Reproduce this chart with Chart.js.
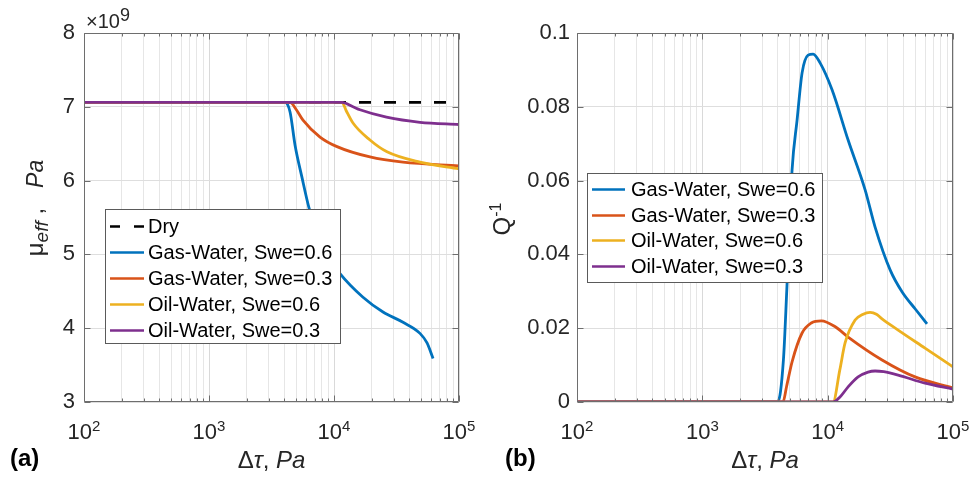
<!DOCTYPE html>
<html>
<head>
<meta charset="utf-8">
<script src="https://cdn.jsdelivr.net/npm/chart.js@4"></script>
<style>
  html, body { margin: 0; padding: 0; background: #fff; }
  #wrap { width: 970px; height: 477px; display: flex; }
  canvas { display: block; }
</style>
</head>
<body>
<div id="wrap">
  <canvas id="chartA" width="485" height="477"></canvas>
  <canvas id="chartB" width="485" height="477"></canvas>
</div>
<script>
const FONT = "'Liberation Sans', Arial, Helvetica, sans-serif";
const TEXT = '#262626';
const AXIS = '#6e6e6e';

// legend labels and colours (MATLAB default order)
const seriesNames = ['Gas-Water, Swe=0.6', 'Gas-Water, Swe=0.3', 'Oil-Water, Swe=0.6', 'Oil-Water, Swe=0.3'];
const seriesColors = ['#0072BD', '#D95319', '#EDB120', '#7E2F8E'];

// x axis (shared): decades and their exponent labels
const xTickValues = [100, 1000, 10000, 100000];
const xTickExponents = ['2', '3', '4', '5'];

// ---- panel (a): effective modulus, in units of 10^9 Pa ----
const dryX  = [100, 100000];
const dryMu = [7.06, 7.06];

const gw06X_a = [100, 4050, 4450, 4880, 5550, 6310, 7000, 8000, 9000, 10000, 11170, 17060, 24660, 35650, 48750, 55500, 62000];
const gw06Mu  = [7.06, 7.06, 6.93, 6.48, 6.04, 5.63, 5.38, 5.15, 4.99, 4.86, 4.74, 4.42, 4.22, 4.08, 3.93, 3.80, 3.59];

const gw03X_a = [100, 4450, 5000, 5650, 7730, 10570, 19400, 35650, 100000];
const gw03Mu  = [7.06, 7.06, 6.96, 6.82, 6.59, 6.46, 6.32, 6.25, 6.20];

const ow06X_a = [100, 11590, 12500, 14190, 19400, 26550, 48750, 100000];
const ow06Mu  = [7.06, 7.06, 6.95, 6.78, 6.55, 6.39, 6.25, 6.16];

const ow03X_a = [100, 11590, 14190, 16140, 26300, 48750, 100000];
const ow03Mu  = [7.06, 7.06, 7.00, 6.96, 6.86, 6.79, 6.76];

// ---- panel (b): attenuation Q^-1 ----
const gw06X_b = [100, 4000, 4436, 4720, 5200, 5700, 6250, 6980, 7660, 8700, 10840, 14560, 19900, 23900, 31500, 39300, 50000, 62000];
const gw06Q   = [0, 0, 0.0114, 0.0304, 0.0629, 0.0764, 0.0892, 0.0940, 0.0943, 0.0919, 0.0846, 0.0710, 0.0575, 0.0474, 0.0358, 0.0298, 0.0252, 0.0212];

const gw03X_b = [100, 4400, 4700, 5200, 6250, 7400, 8900, 11500, 14560, 27160, 49800, 100000];
const gw03Q   = [0, 0, 0.0042, 0.0109, 0.0187, 0.0214, 0.0220, 0.0204, 0.0176, 0.0114, 0.0068, 0.0038];

const ow06X_b = [100, 11040, 12500, 13770, 16560, 19000, 21800, 24500, 27000, 36500, 59800, 100000];
const ow06Q   = [0, 0, 0.0087, 0.0160, 0.0222, 0.0237, 0.0243, 0.0238, 0.0226, 0.0195, 0.0146, 0.0095];

const ow03X_b = [100, 11040, 12500, 14560, 17500, 21000, 23900, 28000, 36500, 59800, 100000];
const ow03Q   = [0, 0, 0.0013, 0.0041, 0.0068, 0.0081, 0.0084, 0.0082, 0.0073, 0.0051, 0.0035];

function pts(xs, ys) {
  return xs.map((x, i) => ({ x: x, y: ys[i] }));
}

// log grid: every 1..9 x decade
const xGridValues = [];
xTickValues.forEach((d, i) => {
  const n = i === xTickValues.length - 1 ? 1 : 9;
  for (let k = 1; k <= n; k++) xGridValues.push(d * k);
});

function line(label, data, color, order, dash) {
  return {
    label: label, data: data, borderColor: color, backgroundColor: color,
    borderWidth: 2.8, borderDash: dash || [], pointRadius: 0, fill: false,
    cubicInterpolationMode: 'monotone', order: order
  };
}

function runsWidth(ctx, runs) {
  let w = 0;
  runs.forEach(r => { ctx.font = r.font + ' ' + FONT; w += ctx.measureText(r.text).width; });
  return w;
}
function drawRuns(ctx, runs, x, y) {
  let cx = x;
  runs.forEach(r => {
    ctx.font = r.font + ' ' + FONT;
    ctx.fillText(r.text, cx, y + (r.dy || 0));
    cx += ctx.measureText(r.text).width;
  });
}

// box, inward ticks, rich-text labels and an in-axes legend, MATLAB style
function makeLook(cfg) {
  return {
    id: 'matlabLook',
    afterDraw(chart) {
      const ctx = chart.ctx, a = chart.chartArea;
      const sx = chart.scales.x, sy = chart.scales.y;
      ctx.save();

      const L = Math.round(a.left) + 0.5, R = Math.round(a.right) - 0.5;
      const T = Math.round(a.top) + 0.5, B = Math.round(a.bottom) - 0.5;
      ctx.strokeStyle = AXIS;
      ctx.lineWidth = 1;
      ctx.setLineDash([]);
      ctx.beginPath();
      ctx.rect(L, T, R - L, B - T);
      sx.ticks.forEach(t => {
        const px = Math.round(sx.getPixelForValue(t.value)) + 0.5;
        const len = xTickValues.includes(t.value) ? 6 : 3;
        ctx.moveTo(px, B); ctx.lineTo(px, B - len);
        ctx.moveTo(px, T); ctx.lineTo(px, T + len);
      });
      sy.ticks.forEach(t => {
        const py = Math.round(sy.getPixelForValue(t.value)) + 0.5;
        ctx.moveTo(L, py); ctx.lineTo(L + 6, py);
        ctx.moveTo(R, py); ctx.lineTo(R - 6, py);
      });
      ctx.stroke();

      // x tick labels 10^n
      ctx.fillStyle = TEXT;
      ctx.textBaseline = 'alphabetic';
      ctx.textAlign = 'left';
      xTickValues.forEach((v, i) => {
        const px = sx.getPixelForValue(v);
        const runs = [{ text: '10', font: '22px' }, { text: xTickExponents[i], font: '15px', dy: -8 }];
        drawRuns(ctx, runs, px - runsWidth(ctx, runs) / 2, 439);
      });

      // x title
      const xr = [{ text: 'Δ', font: '24px' }, { text: 'τ', font: 'italic 24px' },
                  { text: ', ', font: '24px' }, { text: 'Pa', font: 'italic 24px' }];
      drawRuns(ctx, xr, (a.left + a.right) / 2 - runsWidth(ctx, xr) / 2, 468);

      // y title (rotated)
      ctx.save();
      ctx.translate(cfg.yTitleX, cfg.yTitleY);
      ctx.rotate(-Math.PI / 2);
      drawRuns(ctx, cfg.yTitle, -runsWidth(ctx, cfg.yTitle) / 2, 0);
      ctx.restore();

      // panel label
      ctx.fillStyle = '#000';
      ctx.font = 'bold 24px ' + FONT;
      ctx.fillText(cfg.panel, cfg.panelX, 466);

      // exponent label
      if (cfg.exponent) {
        ctx.fillStyle = TEXT;
        drawRuns(ctx, [{ text: '×10', font: '20px' }, { text: cfg.exponent, font: '18px', dy: -7 }], 86, 28);
      }

      // legend
      const lg = cfg.legend;
      ctx.fillStyle = '#fff';
      ctx.fillRect(lg.left, lg.top, lg.right - lg.left, lg.bottom - lg.top);
      ctx.strokeStyle = '#5a5a5a';
      ctx.lineWidth = 1;
      ctx.strokeRect(lg.left + 0.5, lg.top + 0.5, lg.right - lg.left, lg.bottom - lg.top);
      chart.data.datasets.forEach((ds, i) => {
        const y = Math.round(lg.top + lg.first + i * lg.step) + 0.5;
        ctx.strokeStyle = ds.borderColor;
        ctx.lineWidth = 2.6;
        ctx.setLineDash(ds.borderDash.length ? [10, 14] : []);
        ctx.beginPath();
        ctx.moveTo(lg.sample0, y); ctx.lineTo(lg.sample1, y);
        ctx.stroke();
        ctx.setLineDash([]);
        ctx.fillStyle = '#000';
        ctx.font = '20px ' + FONT;
        ctx.textBaseline = 'middle';
        ctx.fillText(ds.label, lg.textX, y + 1);
      });
      ctx.restore();
    }
  };
}

function makeOptions(cfg) {
  return {
    responsive: false,
    animation: false,
    events: [],
    layout: { padding: { top: 33, right: cfg.padRight, left: 0, bottom: 0 } },
    plugins: { legend: { display: false }, tooltip: { enabled: false } },
    scales: {
      x: {
        type: 'logarithmic', min: 100, max: 100000,
        afterBuildTicks: s => { s.ticks = xGridValues.map(v => ({ value: v })); },
        afterFit: s => { s.height = 75; },
        ticks: { display: false, autoSkip: false },
        grid: {
          drawTicks: false, lineWidth: 1,
          color: c => (c.tick && xTickValues.includes(c.tick.value)) ? '#d9d9d9' : '#e6e6e6'
        },
        border: { display: false }
      },
      y: {
        min: cfg.yMin, max: cfg.yMax,
        afterFit: s => { s.width = cfg.yWidth; },
        ticks: {
          stepSize: cfg.yStep, padding: cfg.yPad, color: TEXT,
          font: { family: FONT, size: 22 },
          callback: v => String(+v.toFixed(2))
        },
        grid: { drawTicks: false, color: '#dedede', lineWidth: 1 },
        border: { display: false }
      }
    }
  };
}

new Chart(document.getElementById('chartA'), {
  type: 'line',
  data: {
    datasets: [
      line('Dry', pts(dryX, dryMu), '#000000', 4, [12, 13]),
      line(seriesNames[0], pts(gw06X_a, gw06Mu), seriesColors[0], 3),
      line(seriesNames[1], pts(gw03X_a, gw03Mu), seriesColors[1], 2),
      line(seriesNames[2], pts(ow06X_a, ow06Mu), seriesColors[2], 1),
      line(seriesNames[3], pts(ow03X_a, ow03Mu), seriesColors[3], 0)
    ]
  },
  options: makeOptions({ padRight: 26, yWidth: 84, yMin: 3, yMax: 8, yStep: 1, yPad: 9 }),
  plugins: [makeLook({
    panel: '(a)', panelX: 10, exponent: '9',
    yTitleX: 43, yTitleY: 208,
    yTitle: [{ text: 'μ', font: '24px' }, { text: 'eff', font: 'italic 19px', dy: 5 },
             { text: ' ,   ', font: '24px' }, { text: 'Pa', font: 'italic 23px' }],
    legend: { left: 105, top: 209, right: 340, bottom: 343, first: 17, step: 26,
              sample0: 110, sample1: 144, textX: 148 }
  })]
});

new Chart(document.getElementById('chartB'), {
  type: 'line',
  data: {
    datasets: [
      line(seriesNames[0], pts(gw06X_b, gw06Q), seriesColors[0], 3),
      line(seriesNames[1], pts(gw03X_b, gw03Q), seriesColors[1], 2),
      line(seriesNames[2], pts(ow06X_b, ow06Q), seriesColors[2], 1),
      line(seriesNames[3], pts(ow03X_b, ow03Q), seriesColors[3], 0)
    ]
  },
  options: makeOptions({ padRight: 17, yWidth: 92, yMin: 0, yMax: 0.1, yStep: 0.02, yPad: 7 }),
  plugins: [makeLook({
    panel: '(b)', panelX: 20,
    yTitleX: 25, yTitleY: 219,
    yTitle: [{ text: 'Q', font: '24px' }, { text: '-1', font: '16px', dy: -9 }],
    legend: { left: 102, top: 173, right: 337, bottom: 282, first: 16, step: 25.7,
              sample0: 107, sample1: 140, textX: 146 }
  })]
});
</script>
</body>
</html>
